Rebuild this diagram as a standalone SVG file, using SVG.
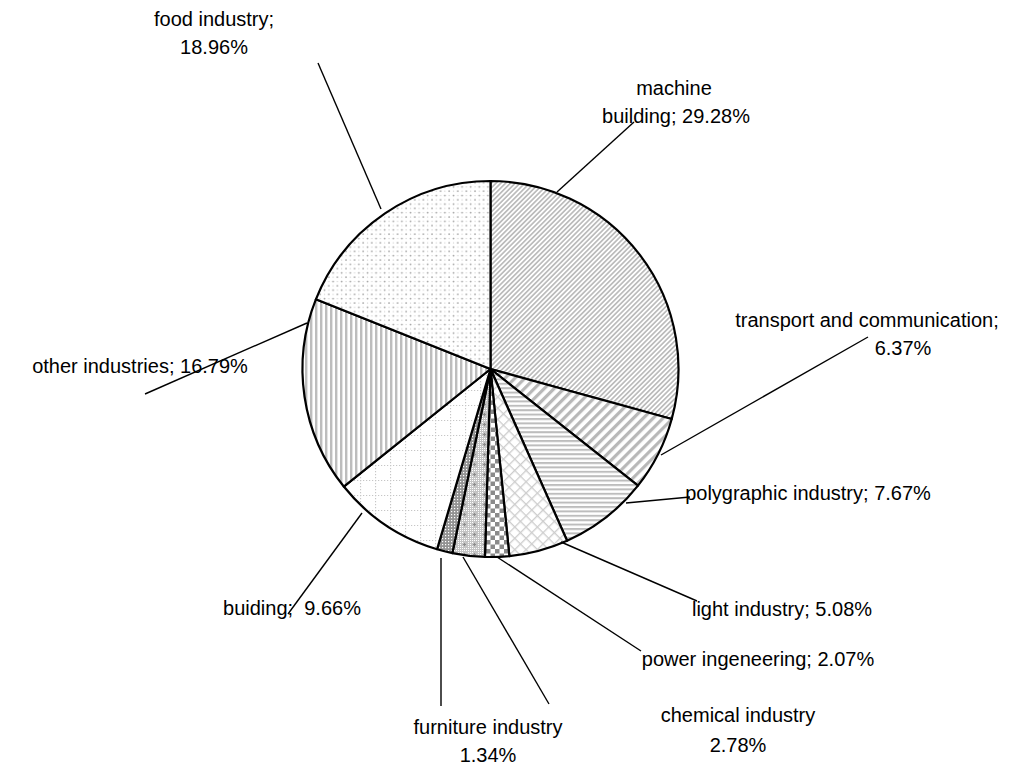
<svg xmlns="http://www.w3.org/2000/svg" width="1026" height="767" viewBox="0 0 1026 767">
  <style>
    .lbl { font-family: "Liberation Sans", Arial, sans-serif; font-size: 20px; fill: #000; text-anchor: middle; }
    .slice { stroke: #000; stroke-width: 2.2; stroke-linejoin: round; }
    .lead { stroke: #000; stroke-width: 1.4; fill: none; }
  </style>
  <defs>
    <!-- fine forward diagonal -->
    <pattern id="p-machine" width="3.4" height="3.4" patternUnits="userSpaceOnUse" patternTransform="rotate(45)">
      <rect width="3.4" height="3.4" fill="#fff"/>
      <rect width="1.7" height="3.4" fill="#bcbcbc"/>
    </pattern>
    <!-- wide forward diagonal -->
    <pattern id="p-transport" width="7" height="7" patternUnits="userSpaceOnUse" patternTransform="rotate(45)">
      <rect width="7" height="7" fill="#fff"/>
      <rect width="3.2" height="7" fill="#b8b8b8"/>
    </pattern>
    <!-- horizontal stripes -->
    <pattern id="p-poly" width="4" height="4.4" patternUnits="userSpaceOnUse">
      <rect width="4" height="4.4" fill="#fff"/>
      <rect width="4" height="2" fill="#bdbdbd"/>
    </pattern>
    <!-- diagonal lattice -->
    <pattern id="p-light" width="8" height="8" patternUnits="userSpaceOnUse" patternTransform="rotate(45)">
      <rect width="8" height="8" fill="#fff"/>
      <rect width="1.3" height="8" fill="#cdcdcd"/>
      <rect width="8" height="1.3" fill="#cdcdcd"/>
    </pattern>
    <!-- checkerboard -->
    <pattern id="p-power" width="9" height="9" patternUnits="userSpaceOnUse">
      <rect width="9" height="9" fill="#fff"/>
      <rect width="4.5" height="4.5" fill="#8a8a8a"/>
      <rect x="4.5" y="4.5" width="4.5" height="4.5" fill="#8a8a8a"/>
    </pattern>
    <!-- small dotted mesh with crosses -->
    <pattern id="p-chem" width="10" height="10" patternUnits="userSpaceOnUse">
      <rect width="10" height="10" fill="#c4c4c4"/>
      <path d="M0 0h1v1h-1zM2 0h1v1h-1zM4 0h1v1h-1zM6 0h1v1h-1zM8 0h1v1h-1zM0 2h1v1h-1zM2 2h1v1h-1zM8 2h1v1h-1zM0 4h1v1h-1zM8 4h1v1h-1zM0 6h1v1h-1zM2 6h1v1h-1zM8 6h1v1h-1zM0 8h1v1h-1zM2 8h1v1h-1zM4 8h1v1h-1zM6 8h1v1h-1zM8 8h1v1h-1z" fill="#fff"/>
      <path d="M4 3h1v1h1v1h-1v1h-1v-1h-1v-1h1z" fill="#8c8c8c"/>
    </pattern>
    <!-- dense dark mesh -->
    <pattern id="p-furn" width="3" height="3" patternUnits="userSpaceOnUse">
      <rect width="3" height="3" fill="#939393"/>
      <rect x="1" y="1" width="1.2" height="1.2" fill="#fff"/>
    </pattern>
    <!-- dotted grid -->
    <pattern id="p-build" width="15" height="15" patternUnits="userSpaceOnUse">
      <rect width="15" height="15" fill="#fff"/>
      <path d="M0 0.5H15" stroke="#c6c6c6" stroke-width="1.2" stroke-dasharray="1.2 1.8"/>
      <path d="M0.5 0V15" stroke="#c6c6c6" stroke-width="1.2" stroke-dasharray="1.2 1.8"/>
    </pattern>
    <!-- vertical stripes -->
    <pattern id="p-other" width="5" height="5" patternUnits="userSpaceOnUse">
      <rect width="5" height="5" fill="#fff"/>
      <rect width="2.4" height="5" fill="#bdbdbd"/>
    </pattern>
    <!-- dot screen -->
    <pattern id="p-food" width="8.6" height="8.6" patternUnits="userSpaceOnUse">
      <rect width="8.6" height="8.6" fill="#fff"/>
      <circle cx="2" cy="2" r="0.9" fill="#a0a0a0"/>
      <circle cx="6.3" cy="6.3" r="0.9" fill="#a0a0a0"/>
      <circle cx="6.3" cy="2" r="0.6" fill="#c4c4c4"/>
      <circle cx="2" cy="6.3" r="0.6" fill="#c4c4c4"/>
    </pattern>
  </defs>

  <!-- pie: centre (490.5,369), r = 188, clockwise from 12 o'clock -->
  <g id="slice-machine-building">
    <path class="slice" fill="url(#p-machine)" d="M490.5 369 L490.5 181 A188 188 0 0 1 671.74 418.95 Z"/>
  </g>
  <g id="slice-transport">
    <path class="slice" fill="url(#p-transport)" d="M490.5 369 L671.74 418.95 A188 188 0 0 1 637.97 485.6 Z"/>
  </g>
  <g id="slice-polygraphic">
    <path class="slice" fill="url(#p-poly)" d="M490.5 369 L637.97 485.6 A188 188 0 0 1 567.1 540.69 Z"/>
  </g>
  <g id="slice-light">
    <path class="slice" fill="url(#p-light)" d="M490.5 369 L567.1 540.69 A188 188 0 0 1 509.37 556.05 Z"/>
  </g>
  <g id="slice-power">
    <path class="slice" fill="url(#p-power)" d="M490.5 369 L509.37 556.05 A188 188 0 0 1 484.95 556.92 Z"/>
  </g>
  <g id="slice-chemical">
    <path class="slice" fill="url(#p-chem)" d="M490.5 369 L484.95 556.92 A188 188 0 0 1 452.38 553.09 Z"/>
  </g>
  <g id="slice-furniture">
    <path class="slice" fill="url(#p-furn)" d="M490.5 369 L452.38 553.09 A188 188 0 0 1 437.03 549.24 Z"/>
  </g>
  <g id="slice-building">
    <path class="slice" fill="url(#p-build)" d="M490.5 369 L437.03 549.24 A188 188 0 0 1 343.78 486.55 Z"/>
  </g>
  <g id="slice-other">
    <path class="slice" fill="url(#p-other)" d="M490.5 369 L343.78 486.55 A188 188 0 0 1 315.87 299.34 Z"/>
  </g>
  <g id="slice-food">
    <path class="slice" fill="url(#p-food)" d="M490.5 369 L315.87 299.34 A188 188 0 0 1 490.5 181 Z"/>
  </g>

  <!-- leader lines -->
  <g id="connectors">
    <line class="lead" x1="318" y1="63" x2="381" y2="209"/>
    <line class="lead" x1="634" y1="122" x2="557" y2="192"/>
    <line class="lead" x1="868" y1="337" x2="661" y2="455"/>
    <line class="lead" x1="690" y1="497" x2="626" y2="503"/>
    <line class="lead" x1="697" y1="601" x2="561" y2="542"/>
    <line class="lead" x1="641" y1="651" x2="497" y2="557"/>
    <line class="lead" x1="549" y1="704" x2="463" y2="557"/>
    <line class="lead" x1="441" y1="706" x2="441" y2="558"/>
    <line class="lead" x1="288" y1="614" x2="362" y2="513"/>
    <line class="lead" x1="145" y1="394" x2="307" y2="323"/>
  </g>

  <!-- labels -->
  <g id="label-food">
    <text class="lbl" x="214" y="26">food industry;</text>
    <text class="lbl" x="214" y="54">18.96%</text>
  </g>
  <g id="label-machine">
    <text class="lbl" x="674" y="95">machine</text>
    <text class="lbl" x="676" y="123">building; 29.28%</text>
  </g>
  <g id="label-transport">
    <text class="lbl" x="867" y="327">transport and communication;</text>
    <text class="lbl" x="903" y="355">6.37%</text>
  </g>
  <g id="label-other">
    <text class="lbl" x="140" y="373">other industries; 16.79%</text>
  </g>
  <g id="label-polygraphic">
    <text class="lbl" x="808" y="500">polygraphic industry; 7.67%</text>
  </g>
  <g id="label-light">
    <text class="lbl" x="782" y="616">light industry; 5.08%</text>
  </g>
  <g id="label-power">
    <text class="lbl" x="758" y="666">power ingeneering; 2.07%</text>
  </g>
  <g id="label-chemical">
    <text class="lbl" x="738" y="722">chemical industry</text>
    <text class="lbl" x="738" y="752">2.78%</text>
  </g>
  <g id="label-furniture">
    <text class="lbl" x="488" y="734">furniture industry</text>
    <text class="lbl" x="488" y="762">1.34%</text>
  </g>
  <g id="label-building">
    <text class="lbl" x="292" y="615" xml:space="preserve">buiding;  9.66%</text>
  </g>
</svg>
